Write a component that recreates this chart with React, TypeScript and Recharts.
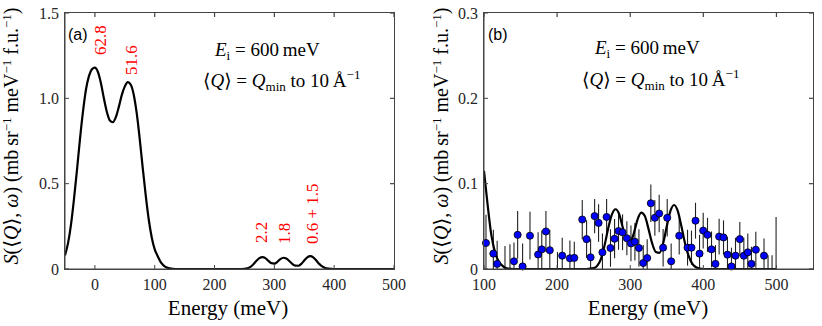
import React from 'react';
import { ComposedChart, Line, Scatter, ErrorBar, XAxis, YAxis, ZAxis, ReferenceLine } from 'recharts';

// model curve
const curveEnergy = [
  -50, -45, -40, -35, -30, -25, -20, -15, -10, -5, 0, 5, 10, 15, 20, 25, 30, 35, 40, 45, 50, 55, 60, 65, 70, 75, 80,
  85, 90, 95, 100, 105, 110, 115, 120, 125, 130, 140, 200, 240, 250, 255, 260, 265, 270, 275, 280, 285, 290, 295, 300,
  305, 310, 315, 320, 325, 330, 335, 340, 345, 350, 355, 360, 365, 370, 375, 380, 385, 390, 395, 400, 450, 500,
];
const curveIntensity = [
  0.08, 0.15, 0.26, 0.41, 0.58, 0.76, 0.92, 1.05, 1.13, 1.17, 1.18, 1.155, 1.09, 1.0, 0.92, 0.87, 0.86, 0.89, 0.95,
  1.02, 1.07, 1.095, 1.08, 1.02, 0.91, 0.76, 0.59, 0.43, 0.29, 0.185, 0.115, 0.075, 0.04, 0.02, 0.009, 0.004, 0.001, 0,
  0, 0, 0.001, 0.004, 0.012, 0.028, 0.048, 0.064, 0.07, 0.064, 0.048, 0.034, 0.032, 0.042, 0.058, 0.066, 0.062, 0.047,
  0.03, 0.02, 0.019, 0.03, 0.05, 0.068, 0.075, 0.068, 0.05, 0.03, 0.015, 0.006, 0.002, 0.0005, 0, 0, 0,
];

// measured points, panel (b)
const pointEnergy = [
  102.7, 112.8, 118, 141, 146, 152.8, 162.9, 174, 179, 184.7, 190, 207, 217.5, 223.5, 234.4, 240.3, 245.8, 251.3, 256.7,
  262, 267.7, 273, 278.6, 284, 289.5, 295.4, 301, 306.4, 311.9, 317.8, 323.2, 328.2, 333.7, 339.6, 345, 350.6, 356, 367,
  378.4, 383.8, 389.3, 394.8, 399.8, 405.7, 411.2, 416.6, 421.6, 427.6, 433, 438.5, 444, 449.9, 455.4, 460.8, 465.8,
  471.8, 483,
];
const pointIntensity = [
  0.0305, 0.018, 0.006, 0.009, 0.04, 0.003, 0.039, 0.017, 0.023, 0.044, 0.022, 0.0156, 0.0125, 0.013, 0.058, 0.035,
  0.0137, 0.062, 0.054, 0.0195, 0.061, 0.0246, 0.0355, 0.0445, 0.043, 0.036, 0.03, 0.032, 0.0246, 0.007, 0.0129, 0.077,
  0.06, 0.065, 0.025, 0.06, 0.009, 0.039, 0.025, 0.025, 0.0566, 0.018, 0.045, 0.04, 0.023, 0.006, 0.038, 0.037, 0.0168,
  0.003, 0.0156, 0.035, 0.0156, 0.0195, 0.006, 0.0226, 0.0156,
];
const pointError = [
  0.033, 0.028, 0.027, 0.022, 0.028, 0.027, 0.028, 0.026, 0.022, 0.024, 0.024, 0.021, 0.021, 0.019, 0.023, 0.022,
  0.021, 0.02, 0.022, 0.022, 0.021, 0.022, 0.023, 0.022, 0.021, 0.02, 0.021, 0.022, 0.022, 0.021, 0.022, 0.022, 0.021,
  0.022, 0.022, 0.022, 0.021, 0.022, 0.021, 0.02, 0.021, 0.022, 0.021, 0.02, 0.021, 0.022, 0.021, 0.02, 0.021, 0.022,
  0.021, 0.02, 0.021, 0.022, 0.02, 0.021, 0.02,
];
// points below zero: only the top of their error bar shows
const hiddenEnergy = [128.7, 135.5, 200.5, 488.5, 494, 499.5];
const hiddenIntensity = [-0.01, -0.008, -0.01, -0.01, -0.008, -0.004];
const hiddenError = [0.037, 0.037, 0.03, 0.026, 0.024, 0.065];

const xDomainA = [-50, 500];
const yDomainA = [0, 1.5];
const xDomainB = [100, 550];
const yDomainB = [0, 0.3];
const xTicksA = [0, 100, 200, 300, 400, 500];
const yTicksA = [0, 0.5, 1.0, 1.5];
const xTicksB = [100, 200, 300, 400, 500];
const yTicksB = [0, 0.1, 0.2, 0.3];
const peakLabels = ['62.8', '51.6', '2.2', '1.8', '0.6 + 1.5'];
const peakLabelPos = [
  [106, 55],
  [136.5, 75],
  [266.5, 243],
  [290, 244],
  [317.5, 244],
];

const curveA = curveEnergy.map((e, i) => ({ e, s: curveIntensity[i] }));
const curveB = curveA.filter((d) => d.e >= 100);
const pointsB = pointEnergy.map((e, i) => ({ e, s: pointIntensity[i], err: pointError[i] }));
const barsB = [...pointsB, ...hiddenEnergy.map((e, i) => ({ e, s: hiddenIntensity[i], err: hiddenError[i] }))];

const SERIF = "'Liberation Serif', 'DejaVu Serif', 'Noto Serif', 'Times New Roman', serif";
const SANS = "'Liberation Sans', Arial, sans-serif";
const AXIS = '#444';
const tickStyle = { fill: '#262626', fontSize: 16, fontFamily: SERIF };
const fmtY = (v: number) => (v === 0 ? '0' : v.toFixed(1));
const serifStyle: React.CSSProperties = { fontFamily: SERIF };

// short inward ticks on the top and right edges (tick length in data units)
function edgeTicks(xDomain: number[], yDomain: number[], xTicks: number[], yTicks: number[], dx: number, dy: number) {
  const xMax = xDomain[1];
  const yMax = yDomain[1];
  return [
    ...xTicks.map((t) => (
      <ReferenceLine key={`tx${t}`} xAxisId="bottom" yAxisId="left" stroke={AXIS} strokeWidth={1.2}
        segment={[{ x: t, y: yMax }, { x: t, y: yMax - dy }]} />
    )),
    ...yTicks.map((t) => (
      <ReferenceLine key={`ty${t}`} xAxisId="bottom" yAxisId="left" stroke={AXIS} strokeWidth={1.2}
        segment={[{ x: xMax, y: t }, { x: xMax - dx, y: t }]} />
    )),
  ];
}

// box around the plot area, laid over the chart
const Box = ({ left, width }: { left: number; width: number }) => (
  <div style={{ position: 'absolute', left, top: 12, width, height: 258, boxSizing: 'border-box',
    border: '1px solid #444', pointerEvents: 'none', zIndex: 5 }} />
);

const YLabel = ({ x, y }: { x: number; y: number }) => (
  <text x={x} y={y} transform={`rotate(-90 ${x} ${y})`} textAnchor="middle" style={serifStyle} fontSize={20} fill="#000">
    <tspan fontStyle="italic">S</tspan>
    <tspan>(⟨</tspan>
    <tspan fontStyle="italic">Q</tspan>
    <tspan>⟩,&#160;</tspan>
    <tspan fontStyle="italic">ω</tspan>
    <tspan>) (mb&#8201;sr</tspan>
    <tspan dy={-7} fontSize={13}>−1</tspan>
    <tspan dy={7}>&#160;meV</tspan>
    <tspan dy={-7} fontSize={13}>−1</tspan>
    <tspan dy={7}>&#160;f.u.</tspan>
    <tspan dy={-7} fontSize={13}>−1</tspan>
    <tspan dy={7}>)</tspan>
  </text>
);

const EiLine = ({ x, y }: { x: number; y: number }) => (
  <text x={x} y={y} style={serifStyle} fontSize={19} fill="#000">
    <tspan fontStyle="italic">E</tspan>
    <tspan fontSize={13} dy={4}>i</tspan>
    <tspan dy={-4}>&#160;=&#160;600&#8201;meV</tspan>
  </text>
);

const QLine = ({ x, y }: { x: number; y: number }) => (
  <text x={x} y={y} style={serifStyle} fontSize={19} fill="#000">
    <tspan>⟨</tspan>
    <tspan fontStyle="italic">Q</tspan>
    <tspan>⟩&#160;=&#160;</tspan>
    <tspan fontStyle="italic">Q</tspan>
    <tspan fontSize={13} dy={4}>min</tspan>
    <tspan dy={-4}>&#160;to&#160;10&#8201;Å</tspan>
    <tspan fontSize={13} dy={-8}>−1</tspan>
  </text>
);

const overlayStyle: React.CSSProperties = { position: 'absolute', left: 0, top: 0, pointerEvents: 'none' };

function PanelA() {
  return (
    <div style={{ position: 'absolute', left: 0, top: 0, width: 410, height: 326 }}>
      <div style={{ position: 'absolute', left: 0, top: 0, width: 410, height: 326 }}>
        <ComposedChart width={410} height={326} margin={{ top: 13, right: 16, bottom: 0, left: 0 }}>
          <XAxis xAxisId="bottom" type="number" dataKey="e" domain={xDomainA} ticks={xTicksA} interval={0}
            height={57} tickSize={-4} tickMargin={14} stroke={AXIS} tick={tickStyle} />
          <YAxis yAxisId="left" type="number" dataKey="s" domain={yDomainA} ticks={yTicksA} interval={0}
            width={65} tickSize={-4} tickMargin={10} tickFormatter={fmtY} stroke={AXIS} tick={tickStyle} />
          {edgeTicks(xDomainA, yDomainA, xTicksA, yTicksA, 6.7, 0.0234)}
          <Line xAxisId="bottom" yAxisId="left" data={curveA} dataKey="s" type="monotone" dot={false}
            stroke="#000" strokeWidth={2.2} isAnimationActive={false} />
        </ComposedChart>
      </div>
      <svg width={410} height={326} style={overlayStyle}>
        <YLabel x={18} y={136} />
        <text x={228} y={315} textAnchor="middle" style={serifStyle} fontSize={21} fill="#000">Energy (meV)</text>
        <text x={68} y={39.5} fontFamily={SANS} fontSize={16} fill="#000">(a)</text>
        <EiLine x={215} y={55.5} />
        <QLine x={203} y={86.5} />
        {peakLabels.map((t, i) => {
          const [x, y] = peakLabelPos[i];
          return (
            <text key={t} x={x} y={y} transform={`rotate(-90 ${x} ${y})`} style={serifStyle} fontSize={17} fill="#ff0000">
              {t}
            </text>
          );
        })}
      </svg>
      <Box left={64} width={331} />
    </div>
  );
}

function PanelB() {
  return (
    <div style={{ position: 'absolute', left: 410, top: 0, width: 412, height: 326 }}>
      {/* error bars on their own layer, cut at the zero line */}
      <div style={{ position: 'absolute', left: 0, top: 0, width: 412, height: 326, clipPath: 'inset(0px 0px 57px 0px)' }}>
        <ComposedChart width={412} height={326} margin={{ top: 13, right: 9, bottom: 57, left: 74 }}>
          <XAxis type="number" dataKey="e" domain={xDomainB} allowDataOverflow hide />
          <YAxis type="number" dataKey="s" domain={yDomainB} allowDataOverflow hide />
          <Scatter data={barsB} shape={() => <g />} isAnimationActive={false}>
            <ErrorBar dataKey="err" direction="y" width={0} stroke="#222" strokeWidth={1.1} />
          </Scatter>
        </ComposedChart>
      </div>
      <div style={{ position: 'absolute', left: 0, top: 0, width: 412, height: 326 }}>
        <ComposedChart width={412} height={326} margin={{ top: 13, right: 9, bottom: 0, left: 0 }}>
          <XAxis xAxisId="bottom" type="number" dataKey="e" domain={xDomainB} ticks={xTicksB} interval={0}
            height={57} tickSize={-4} tickMargin={14} stroke={AXIS} tick={tickStyle} />
          <YAxis yAxisId="left" type="number" dataKey="s" domain={yDomainB} ticks={yTicksB} interval={0}
            width={74} tickSize={-4} tickMargin={10} tickFormatter={fmtY} stroke={AXIS} tick={tickStyle} />
          <ZAxis range={[40, 40]} />
          {edgeTicks(xDomainB, yDomainB, xTicksB, yTicksB, 5.5, 0.0047)}
          <Line xAxisId="bottom" yAxisId="left" data={curveB} dataKey="s" type="monotone" dot={false}
            stroke="#000" strokeWidth={2.2} isAnimationActive={false} />
          <Scatter xAxisId="bottom" yAxisId="left" data={pointsB} fill="#0000ff" stroke="#000" strokeWidth={0.8}
            isAnimationActive={false} />
        </ComposedChart>
      </div>
      <svg width={412} height={326} style={overlayStyle}>
        <YLabel x={38} y={136} />
        <text x={238} y={315} textAnchor="middle" style={serifStyle} fontSize={21} fill="#000">Energy (meV)</text>
        <text x={78} y={39.5} fontFamily={SANS} fontSize={16} fill="#000">(b)</text>
        <EiLine x={185} y={54} />
        <QLine x={172} y={86} />
      </svg>
      <Box left={73} width={331} />
    </div>
  );
}

export default function App() {
  return (
    <div style={{ position: 'absolute', left: 0, top: 0, width: 822, height: 326, background: '#fff' }}>
      <PanelA />
      <PanelB />
    </div>
  );
}
